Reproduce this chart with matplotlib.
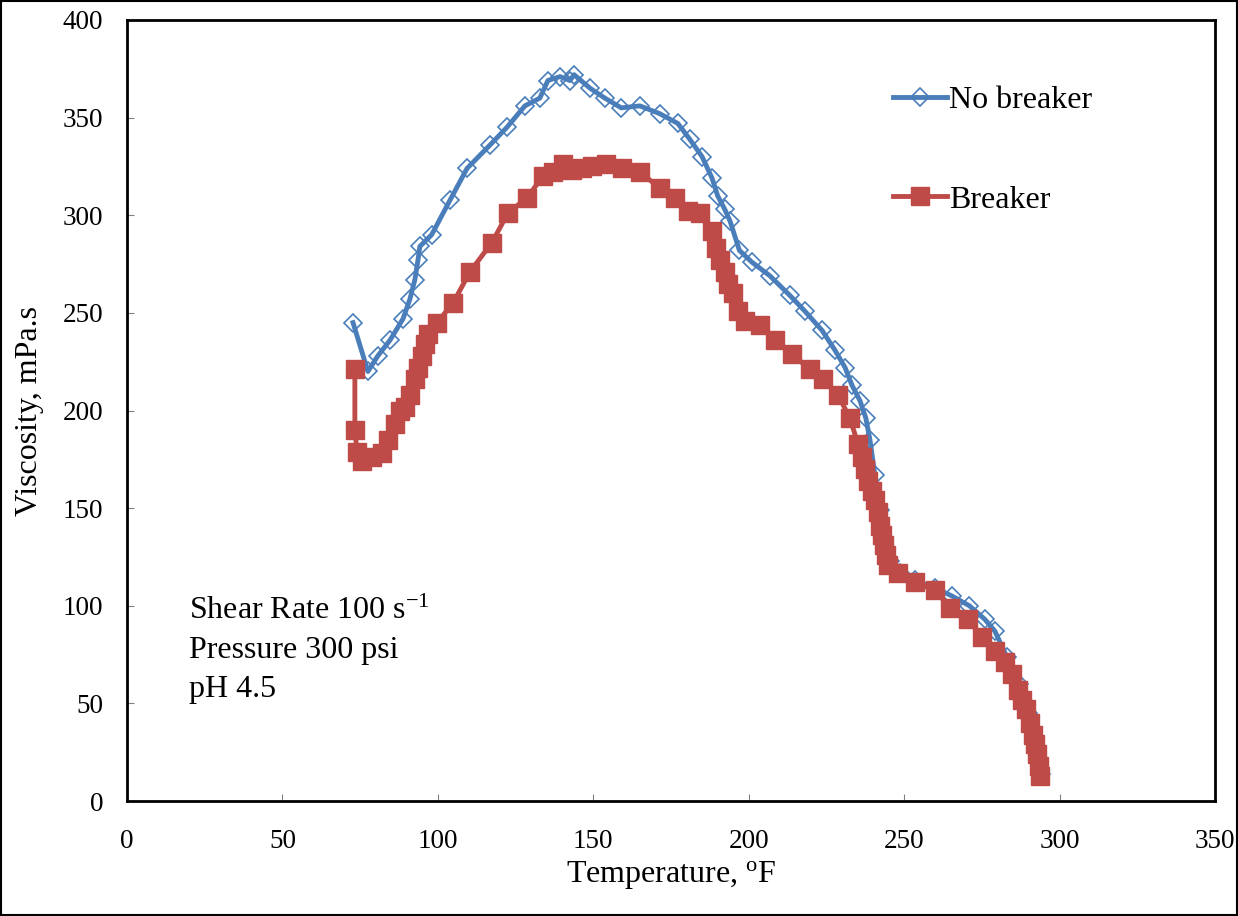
import matplotlib.pyplot as plt
from matplotlib.patches import Rectangle

plt.rcParams['font.family'] = ['Liberation Serif', 'DejaVu Serif']
plt.rcParams['mathtext.fontset'] = 'custom'
plt.rcParams['mathtext.rm'] = 'Liberation Serif'
plt.rcParams['mathtext.it'] = 'Liberation Serif:italic'

# No breaker
temp_nb = [72.7, 77.5, 80.7, 84.6, 88.8, 91.0, 92.6, 93.6, 94.2, 98.0, 104.0, 109.4,
           116.8, 122.2, 128.0, 132.8, 135.4, 139.3, 142.5, 143.8, 149.0, 153.7, 159.0,
           165.0, 171.4, 177.2, 181.0, 185.0, 188.2, 190.0, 192.3, 194.0, 197.0, 201.0,
           206.8, 213.2, 218.0, 223.6, 227.7, 231.0, 233.2, 235.8, 237.7, 239.0, 240.6,
           242.2, 243.5, 245.4, 248.6, 253.5, 260.0, 265.4, 271.0, 276.0, 279.2, 283.0,
           287.0, 290.0, 292.0, 293.0, 294.0]
visc_nb = [245, 220, 228, 236, 247, 257, 267, 277, 284, 290, 308, 324,
           336, 345, 356, 360, 369, 371, 369, 372, 365, 360, 355,
           356, 352, 347, 339, 330, 319, 310, 303, 297, 282, 276,
           269, 259, 251, 241, 231, 222, 213, 205, 196, 185, 167,
           149, 134, 123, 117, 113, 109, 105, 100, 93, 87, 74,
           60, 45, 33, 22, 14]

# Breaker
temp_b = [73.3, 73.3, 74.0, 75.6, 78.8, 82.0, 84.0, 86.2, 87.8, 89.4, 91.0, 92.6,
          93.6, 94.9, 95.8, 96.8, 99.7, 104.9, 110.3, 117.4, 122.5, 128.7, 133.8,
          137.0, 140.2, 143.1, 146.3, 149.6, 154.0, 159.2, 165.0, 171.4, 176.3, 180.4,
          184.3, 188.2, 189.5, 190.7, 192.3, 193.3, 194.9, 196.5, 198.8, 203.6, 208.4,
          213.9, 219.7, 223.9, 228.7, 232.6, 235.1, 236.4, 237.4, 238.3, 239.6, 240.6,
          241.5, 242.2, 242.8, 243.5, 244.1, 244.8, 247.9, 253.5, 260.0, 264.7, 270.5,
          275.0, 279.2, 282.4, 284.6, 286.6, 287.9, 289.2, 290.4, 291.4, 292.0, 292.7,
          293.3, 293.7]
visc_b = [221, 190, 179, 174, 176, 178, 185, 193, 200, 202, 208, 216,
          222, 228, 234, 239, 245, 255, 271, 286, 301, 309, 320,
          322, 326, 323, 324, 325, 326, 324, 322, 314, 309, 302,
          301, 292, 283, 277, 271, 265, 260, 251, 246, 244, 236,
          229, 221, 216, 208, 196, 183, 176, 170, 164, 159, 154,
          148, 141, 136, 131, 126, 121, 117, 112, 108, 99, 93,
          84, 77, 71, 65, 57, 52, 47, 40, 34, 29, 24,
          18, 13]

blue = '#4A7EBB'
red = '#BE4B48'

fig = plt.figure(figsize=(12.38, 9.16), dpi=100)
ax = fig.add_axes([0.1026, 0.1255, 0.8788, 0.8527])

ax.plot(temp_nb, visc_nb, color=blue, lw=3.5, marker='D', ms=9,
        mfc='none', mec=blue, mew=1.2, label='No breaker')
ax.plot(temp_b, visc_b, color=red, lw=3.5, marker='s', ms=13,
        mfc=red, mec=red, label='Breaker')

ax.set_xlim(0, 350)
ax.set_ylim(0, 400)
ax.set_xticks(range(0, 351, 50))
ax.set_yticks(range(0, 401, 50))
ax.tick_params(direction='in', labelsize=19.5, length=5, color='gray')
ax.tick_params(axis='x', pad=20)
ax.tick_params(axis='y', pad=17)
for s in ax.spines.values():
    s.set_linewidth(2)

ax.set_xlabel(r'Temperature, $^{\mathrm{o}}$F', fontsize=23, va='center')
ax.set_ylabel('Viscosity, mPa.s', fontsize=23, va='center')
ax.xaxis.set_label_coords(0.5, -0.095)
ax.yaxis.set_label_coords(-0.0892, 0.5)

ax.text(20, 97, r'Shear Rate 100 s$^{-1}$', fontsize=23, va='center')
ax.text(20, 77, 'Pressure 300 psi', fontsize=23, va='center')
ax.text(20, 57, 'pH 4.5', fontsize=23, va='center')

ax.legend(loc='upper left', bbox_to_anchor=(0.704, 0.916), frameon=False,
          fontsize=23, numpoints=1, handlelength=1.7, labelspacing=2.2,
          handletextpad=0.05, borderpad=0, borderaxespad=0)

fig.patches.append(Rectangle((0.001, 0.001), 0.998, 0.998, transform=fig.transFigure,
                             fill=False, edgecolor='black', lw=1.5))

fig.savefig('out.png', dpi=100)
